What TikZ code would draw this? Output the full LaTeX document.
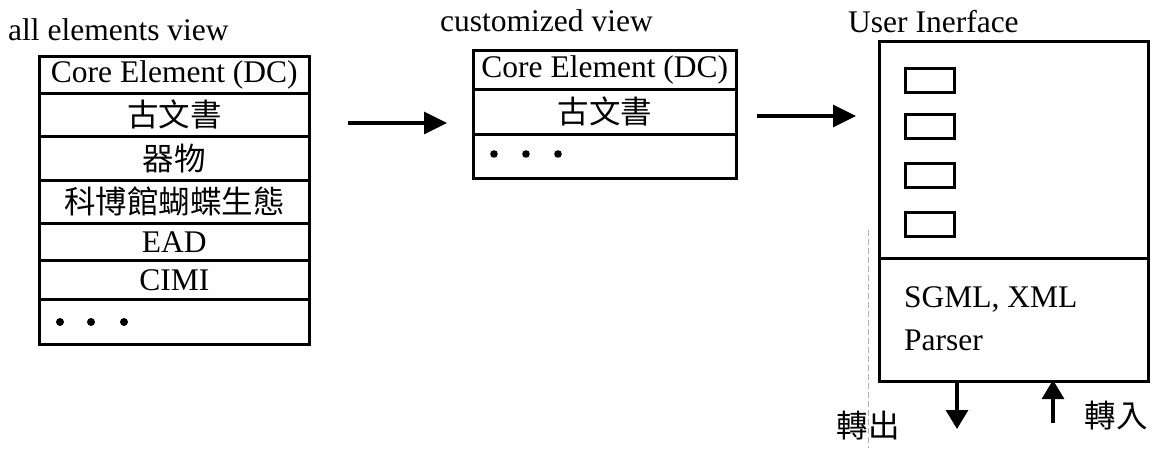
\documentclass[tikz,border=0pt]{standalone}
\usepackage{fontspec}
\setmainfont{Liberation Serif}
\newfontfamily\cjk{Noto Sans CJK TC}
\usetikzlibrary{arrows.meta}
\begin{document}
\begin{tikzpicture}[x=1pt,y=-1pt,
  font=\fontsize{31.5}{36}\selectfont,
  cell/.style={draw,line width=2.6pt,rectangle,anchor=north west,inner sep=0pt,minimum width=#1},
  cell/.default=270pt,
  widget/.style={draw,line width=2.8pt,rectangle,anchor=north west,inner sep=0pt,minimum width=49pt,minimum height=24pt},
  flow/.style={line width=3.2pt,-{Triangle[length=23pt,width=22pt]}},
  io/.style={line width=3.2pt,-{Triangle[length=19pt,width=22pt]}},
  dotmark/.style={fill=black},
  label/.style={anchor=base west,inner sep=0pt}]
\useasboundingbox (0,0) rectangle (1153,448);
\fill[white] (0,0) rectangle (1153,448);

% left table
\node[label] (tallview) at (8,40) {all elements view};
\node[cell,minimum height=37pt] (l1) at (38,55) {Core Element (DC)};
\node[cell,minimum height=43pt] (l2) at (38,92) {\cjk 古文書};
\node[cell,minimum height=44pt] (l3) at (38,135) {\cjk 器物};
\node[cell,minimum height=43pt] (l4) at (38,179) {\cjk 科博館蝴蝶生態};
\node[cell,minimum height=37pt] (l5) at (38,222) {EAD};
\node[cell,minimum height=39pt] (l6) at (38,259) {CIMI};
\node[cell,minimum height=45pt] (l7) at (38,298) {};
\foreach \x in {60,91,124} \fill[dotmark] (\x,322) circle (4pt);

% middle table
\node[label] (tcustom) at (440,31) {customized view};
\node[cell=263pt,minimum height=39pt] (m1) at (472,49) {Core Element (DC)};
\node[cell=263pt,minimum height=45pt] (m2) at (472,88) {\cjk 古文書};
\node[cell=263pt,minimum height=44pt] (m3) at (472,133) {};
\foreach \x in {494,526,558} \fill[dotmark] (\x,154) circle (3.8pt);

% arrows between views
\coordinate (a1s) at (348,123);
\coordinate (a1e) at (447,123);
\coordinate (a2s) at (757,116);
\coordinate (a2e) at (856,116);
\draw[flow] (a1s) -- (a1e);
\draw[flow] (a2s) -- (a2e);

% user interface
\node[label] (tui) at (848,32) {User Inerface};
\node[cell=269pt,minimum height=217pt,line width=3pt] (ui) at (878,40) {};
\node[cell=269pt,minimum height=123pt,line width=3pt] (parser) at (878,257) {};
\node[widget] (w1) at (904,67) {};
\node[widget] (w2) at (904,113) {};
\node[widget] (w3) at (904,162) {};
\node[widget] (w4) at (904,211) {};
\node[label] (tsgml) at (904,307) {SGML, XML};
\node[label] (tparser) at (904,350) {Parser};

% scan guide line
\draw[gray!60,line width=0.8pt,dash pattern=on 6pt off 3pt] (868,230) -- (868,448);

% import / export
\coordinate (outs) at (957,380);
\coordinate (oute) at (957,429);
\coordinate (ins) at (1053,423);
\coordinate (ine) at (1053,380);
\draw[io] (outs) -- (oute);
\draw[io] (ins) -- (ine);
\node (tout) at (868,426) {\cjk 轉出};
\node (tin) at (1116,416) {\cjk 轉入};
\end{tikzpicture}
\end{document}
